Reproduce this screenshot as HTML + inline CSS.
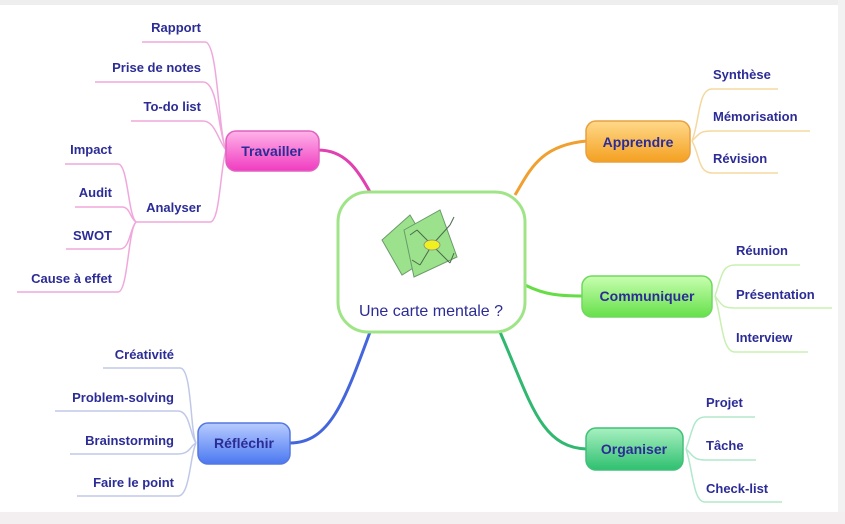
<!DOCTYPE html>
<html><head><meta charset="utf-8"><style>
html,body{margin:0;padding:0;background:#fff}
svg{display:block}
text{font-family:"Liberation Sans",sans-serif;font-weight:bold;fill:#2c2c96}
</style></head><body>
<svg width="845" height="524" viewBox="0 0 845 524" xmlns="http://www.w3.org/2000/svg">
<defs>
<linearGradient id="gp" x1="0" y1="0" x2="0" y2="1"><stop offset="0" stop-color="#ffb3ea"/><stop offset="1" stop-color="#f03cc0"/></linearGradient>
<linearGradient id="go" x1="0" y1="0" x2="0" y2="1"><stop offset="0" stop-color="#ffd98a"/><stop offset="1" stop-color="#f4a020"/></linearGradient>
<linearGradient id="gg" x1="0" y1="0" x2="0" y2="1"><stop offset="0" stop-color="#c8ffb0"/><stop offset="1" stop-color="#66e04a"/></linearGradient>
<linearGradient id="gt" x1="0" y1="0" x2="0" y2="1"><stop offset="0" stop-color="#a8f0c0"/><stop offset="1" stop-color="#2ec070"/></linearGradient>
<linearGradient id="gb" x1="0" y1="0" x2="0" y2="1"><stop offset="0" stop-color="#b8ccff"/><stop offset="1" stop-color="#4a78f0"/></linearGradient>
</defs>
<rect x="0" y="0" width="845" height="524" fill="#fff"/>
<rect x="0" y="0" width="845" height="5" fill="#eeeeee"/>
<rect x="0" y="512" width="845" height="12" fill="#f3eef0"/>
<rect x="838" y="0" width="7" height="512" fill="#f2f2f2"/>

<!-- main branches -->
<g fill="none" stroke-width="3">
<path d="M318 150 C345 150 358 170 370 192" stroke="#e040b0"/>
<path d="M515 195 C530 170 540 145 587 141" stroke="#f0a030"/>
<path d="M525 285 C545 295 560 296 584 296" stroke="#66dd44"/>
<path d="M500 332 C530 400 540 448 587 449" stroke="#30b870"/>
<path d="M370 332 C345 400 330 443 290 443" stroke="#4466dd"/>
</g>
<!-- leaf lines -->
<g fill="none" stroke-width="1.5">
<g stroke="#f0a8dc">
<path d="M142 42 L205 42 C218 42 218 130 226 150"/>
<path d="M95 82 L203 82 C218 82 218 130 226 150"/>
<path d="M131 121 L203 121 C215 121 218 140 226 150"/>
<path d="M135 222 L210 222 C220 222 220 170 226 150"/>
<path d="M65 164 L118 164 C128 164 128 215 136 222"/>
<path d="M75 207 L122 207 C130 207 130 218 136 222"/>
<path d="M66 249 L120 249 C130 249 130 228 136 222"/>
<path d="M17 292 L118 292 C128 292 128 230 136 222"/>
</g>
<g stroke="#f5d8a0">
<path d="M692 141 C700 120 698 89 712 89 L778 89"/>
<path d="M692 141 C700 133 700 131 712 131 L810 131"/>
<path d="M692 141 C700 155 698 173 712 173 L778 173"/>
</g>
<g stroke="#c8f0b0">
<path d="M715 296 C722 275 722 265 735 265 L800 265"/>
<path d="M715 296 C722 305 722 308 735 308 L832 308"/>
<path d="M715 296 C722 320 722 352 735 352 L808 352"/>
</g>
<g stroke="#b0e8cc">
<path d="M686 449 C693 430 693 417 705 417 L755 417"/>
<path d="M686 449 C693 455 693 460 705 460 L756 460"/>
<path d="M686 449 C693 470 693 502 705 502 L782 502"/>
</g>
<g stroke="#c0c8e8">
<path d="M103 368 L180 368 C192 368 190 430 196 443"/>
<path d="M55 411 L178 411 C190 411 190 435 196 443"/>
<path d="M70 454 L178 454 C190 454 190 446 196 443"/>
<path d="M77 496 L178 496 C190 496 190 455 196 443"/>
</g>
</g>

<!-- central node -->
<rect x="338" y="192" width="187" height="140" rx="30" fill="#fff" stroke="#a0e488" stroke-width="3"/>
<g transform="translate(382,205)">
<polygon points="0,35 28,10 52,50 20,70" fill="#9ce28c" stroke="#6a9a6a" stroke-width="1"/>
<polygon points="22,25 58,5 75,52 32,72" fill="#9ce28c" stroke="#6a9a6a" stroke-width="1"/>
<g stroke="#4a6a4a" stroke-width="1" fill="none">
<path d="M50 40 L35 25 M50 40 L68 20 M50 40 L38 60 M50 40 L68 58 M35 25 L28 30 M68 20 L72 12 M38 60 L30 55 M68 58 L72 48"/>
</g>
<ellipse cx="50" cy="40" rx="8" ry="5" fill="#f0f020" stroke="#888" stroke-width="0.8"/>
</g>
<text x="431" y="316" text-anchor="middle" font-size="16" style="font-weight:normal">Une carte mentale ?</text>

<!-- branch nodes -->
<rect x="226" y="131" width="93" height="40" rx="10" fill="url(#gp)" stroke="#e060c0" stroke-width="1.5"/>
<text x="272" y="156" text-anchor="middle" font-size="14">Travailler</text>
<rect x="586" y="121" width="104" height="41" rx="10" fill="url(#go)" stroke="#e8a040" stroke-width="1.5"/>
<text x="638" y="147" text-anchor="middle" font-size="14">Apprendre</text>
<rect x="582" y="276" width="130" height="41" rx="10" fill="url(#gg)" stroke="#70d860" stroke-width="1.5"/>
<text x="647" y="301" text-anchor="middle" font-size="14">Communiquer</text>
<rect x="586" y="428" width="97" height="42" rx="10" fill="url(#gt)" stroke="#40c078" stroke-width="1.5"/>
<text x="634" y="454" text-anchor="middle" font-size="14">Organiser</text>
<rect x="198" y="423" width="92" height="41" rx="10" fill="url(#gb)" stroke="#5578e0" stroke-width="1.5"/>
<text x="244" y="448" text-anchor="middle" font-size="14">Réfléchir</text>

<!-- leaves -->
<g font-size="13">
<text x="201" y="32" text-anchor="end">Rapport</text>
<text x="201" y="72" text-anchor="end">Prise de notes</text>
<text x="201" y="111" text-anchor="end">To-do list</text>
<text x="201" y="212" text-anchor="end">Analyser</text>
<text x="112" y="154" text-anchor="end">Impact</text>
<text x="112" y="197" text-anchor="end">Audit</text>
<text x="112" y="240" text-anchor="end">SWOT</text>
<text x="112" y="283" text-anchor="end">Cause à effet</text>
<text x="713" y="79">Synthèse</text>
<text x="713" y="121">Mémorisation</text>
<text x="713" y="163">Révision</text>
<text x="736" y="255">Réunion</text>
<text x="736" y="299">Présentation</text>
<text x="736" y="342">Interview</text>
<text x="706" y="407">Projet</text>
<text x="706" y="450">Tâche</text>
<text x="706" y="493">Check-list</text>
<text x="174" y="359" text-anchor="end">Créativité</text>
<text x="174" y="402" text-anchor="end">Problem-solving</text>
<text x="174" y="445" text-anchor="end">Brainstorming</text>
<text x="174" y="487" text-anchor="end">Faire le point</text>
</g>
</svg>
</body></html>
